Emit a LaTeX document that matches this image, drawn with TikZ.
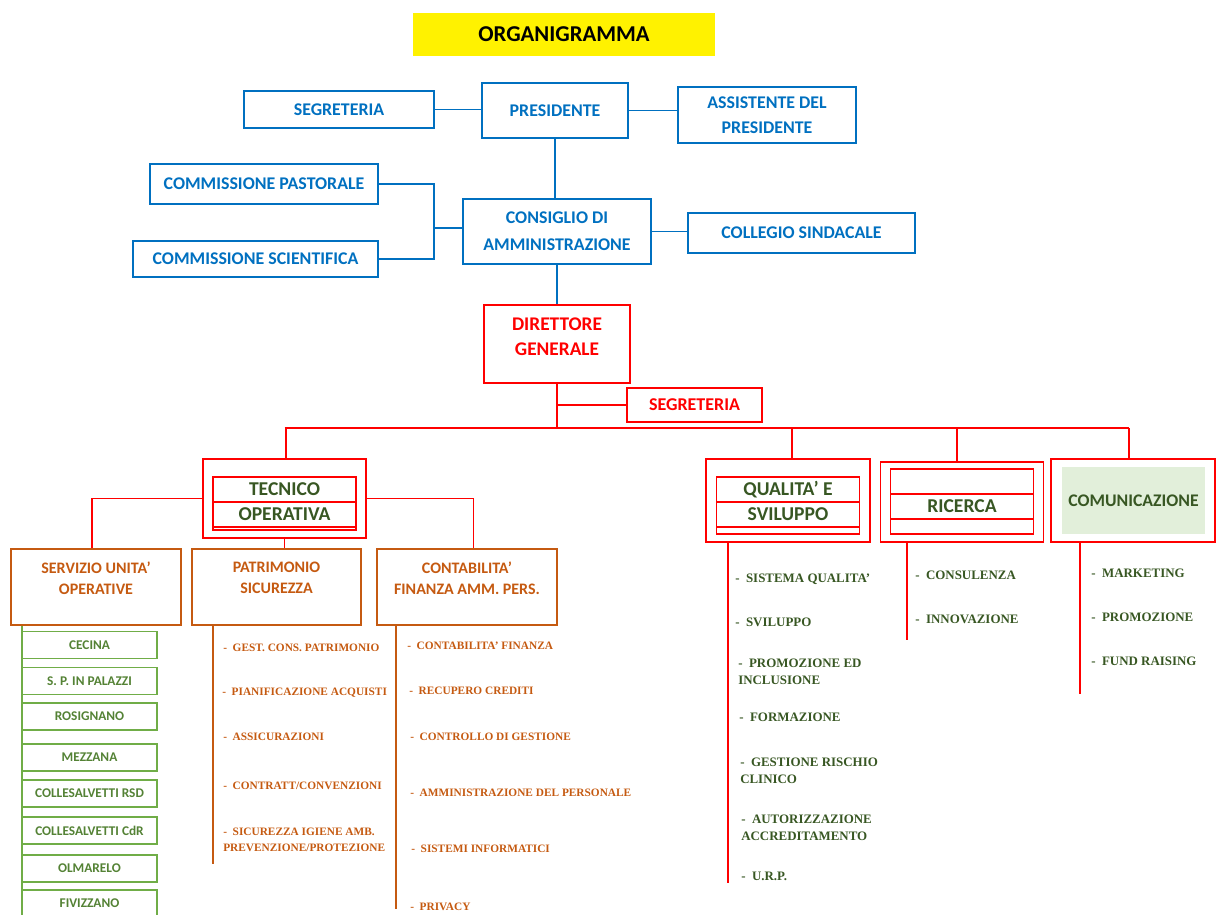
\documentclass[tikz,border=0pt]{standalone}
\usepackage{fontspec}
\setmainfont{Carlito}
\newfontfamily\listfont{Liberation Serif}
\usetikzlibrary{positioning}
\definecolor{cobalt}{RGB}{0, 112, 192}
\definecolor{scarlet}{RGB}{255, 0, 0}
\definecolor{pumpkin}{RGB}{197, 90, 17}
\definecolor{fern}{RGB}{56, 87, 35}
\definecolor{moss}{RGB}{84, 130, 53}
\definecolor{leaf}{RGB}{112, 173, 71}
\definecolor{mint}{RGB}{226, 239, 218}

\begin{document}
\begin{tikzpicture}[x=0.75pt, y=-0.75pt,
    wh/.style 2 args={minimum width=#1*0.75pt, minimum height=#2*0.75pt},
    bluebox/.style={draw=cobalt, line width=1pt, text=cobalt, inner sep=0pt, align=center,
                    font=\bfseries\fontsize{13.4}{18.5}\selectfont},
    blueline/.style={draw=cobalt, line width=1pt},
    redbox/.style={draw=scarlet, line width=1.1pt, inner sep=0pt},
    redrow/.style={draw=scarlet, line width=0.8pt, inner sep=0pt, text=fern,
                   font=\bfseries\fontsize{14.7}{18}\selectfont},
    redline/.style={draw=scarlet, line width=1pt},
    redtext/.style={text=scarlet, inner sep=0pt, align=center,
                    font=\bfseries\fontsize{14.5}{18.75}\selectfont},
    orbox/.style={draw=pumpkin, line width=1pt, inner sep=0pt},
    ortext/.style={text=pumpkin, inner sep=0pt, align=center,
                   font=\bfseries\fontsize{12}{15.75}\selectfont},
    orline/.style={draw=pumpkin, line width=1pt},
    oritem/.style={text=pumpkin, anchor=west, inner sep=0pt, align=left,
                   font=\listfont\bfseries\fontsize{8.5}{12}\selectfont},
    gritem/.style={text=fern, anchor=west, inner sep=0pt, align=left,
                   font=\listfont\bfseries\fontsize{9.7}{12.75}\selectfont},
    uobox/.style={draw=leaf, line width=0.9pt, text=moss, inner sep=0pt, wh={135}{27},
                  font=\bfseries\fontsize{10}{12}\selectfont},
    uoline/.style={draw=leaf, line width=1pt}]
    \useasboundingbox (0,0) rectangle (1219,914);

    % Title
    \node[fill=yellow, wh={302}{43}, font=\bfseries\fontsize{17}{20}\selectfont] (title) at (564,34) {ORGANIGRAMMA};

    % Presidenza e consiglio
    \node[bluebox, wh={190}{37}] (segr)   at (339,109.5) {SEGRETERIA};
    \node[bluebox, wh={146}{55}] (pres)   at (555,110.5) {PRESIDENTE};
    \node[bluebox, wh={178}{56}] (assist) at (767,115)   {ASSISTENTE DEL\\PRESIDENTE};
    \node[bluebox, wh={228}{40}] (pastor) at (264,184)   {COMMISSIONE PASTORALE};
    \node[bluebox, wh={245}{36}] (scient) at (255.5,259) {COMMISSIONE SCIENTIFICA};
    \node[bluebox, wh={188}{65}] (cda)    at (557,231.5) {CONSIGLIO DI\\[1.5pt]AMMINISTRAZIONE};
    \node[bluebox, wh={227}{40}] (coll)   at (801.5,233) {COLLEGIO SINDACALE};

    % Direzione
    \node[redbox, wh={146}{78}] (dg) at (557,344) {};
    \node[redtext, below=10pt of dg.north] (dgT) {DIRETTORE\\GENERALE};
    \node[redbox, wh={135}{34}, text=scarlet, font=\bfseries\fontsize{13.5}{16}\selectfont] (dgsegr) at (694.5,405) {SEGRETERIA};

    % Aree
    \node[redbox, wh={163}{79}] (tec)   at (284.5,498.5) {};
    \node[redrow, wh={143}{25}] (tecA)  at (284.5,489.5) {TECNICO};
    \node[redrow, wh={143}{25}] (tecB)  at (284.5,514.5) {OPERATIVA};
    \node[redrow, wh={143}{3}]  (tecC)  at (284.5,528.5) {};
    \node[redbox, wh={164}{83}] (qual)  at (788,500.5)   {};
    \node[redrow, wh={143}{25}] (qualA) at (788,489.5)   {QUALITA’ E};
    \node[redrow, wh={143}{25}] (qualB) at (788,514.5)   {SVILUPPO};
    \node[redrow, wh={143}{7}]  (qualC) at (788,530.5)   {};
    \node[redbox, wh={163}{80}] (ric)   at (962,502)     {};
    \node[redrow, wh={143}{25}] (ricA)  at (962,481.5)   {};
    \node[redrow, wh={143}{25}] (ricB)  at (962,506.5)   {RICERCA};
    \node[redrow, wh={143}{15}] (ricC)  at (962,526.5)   {};
    \node[redbox, wh={164}{83}] (com)   at (1133,500.5)  {};
    \node[fill=mint, text=fern, inner sep=0pt, wh={143}{67}, font=\bfseries\fontsize{13.3}{16}\selectfont]
         (comA) at (1133.5,500.5) {COMUNICAZIONE};

    % Servizi tecnico operativi
    \node[orbox, wh={170}{76}] (serv) at (96,587)    {};
    \node[ortext, below=10pt of serv.north] (servT) {SERVIZIO UNITA’\\OPERATIVE};
    \node[orbox, wh={169}{76}] (patr) at (276.5,587) {};
    \node[ortext, below=10pt of patr.north] (patrT) {PATRIMONIO\\SICUREZZA};
    \node[orbox, wh={180}{76}] (cont) at (467,587)   {};
    \node[ortext, below=10pt of cont.north] (contT) {CONTABILITA’\\FINANZA AMM. PERS.};

    % Unita' operative
    \foreach \y/\lbl [count=\i] in {645/CECINA, 681/S. P. IN PALAZZI, 716.5/ROSIGNANO, 757.5/MEZZANA,
                                    793.5/COLLESALVETTI RSD, 830.5/COLLESALVETTI CdR, 868.5/OLMARELO, 903.5/FIVIZZANO}
        \node[uobox] (uo\i) at (89.5,\y) {\lbl};

    % Voci
    \node[oritem] (pa1) at (223,648) {-~~GEST. CONS. PATRIMONIO};
    \node[oritem] (pa2) at (222,693) {-~~PIANIFICAZIONE ACQUISTI};
    \node[oritem] (pa3) at (223,737) {-~~ASSICURAZIONI};
    \node[oritem] (pa4) at (223,786) {-~~CONTRATT/CONVENZIONI};
    \node[oritem] (pa5) at (223,840) {-~~SICUREZZA IGIENE AMB.\\PREVENZIONE/PROTEZIONE};

    \node[oritem] (co1) at (407,646) {-~~CONTABILITA’ FINANZA};
    \node[oritem] (co2) at (409,691) {-~~RECUPERO CREDITI};
    \node[oritem] (co3) at (410,737) {-~~CONTROLLO DI GESTIONE};
    \node[oritem] (co4) at (410,793) {-~~AMMINISTRAZIONE DEL PERSONALE};
    \node[oritem] (co5) at (411,849) {-~~SISTEMI INFORMATICI};
    \node[oritem] (co6) at (410,907) {-~~PRIVACY};

    \node[gritem] (qu1) at (735,579)   {-~~SISTEMA QUALITA’};
    \node[gritem] (qu2) at (735,622)   {-~~SVILUPPO};
    \node[gritem] (qu3) at (738,671.5) {-~~PROMOZIONE ED\\INCLUSIONE};
    \node[gritem] (qu4) at (739,717)   {-~~FORMAZIONE};
    \node[gritem] (qu5) at (740,770.5) {-~~GESTIONE RISCHIO\\CLINICO};
    \node[gritem] (qu6) at (741,827.5) {-~~AUTORIZZAZIONE\\ACCREDITAMENTO};
    \node[gritem] (qu7) at (741,876)   {-~~U.R.P.};

    \node[gritem] (ri1) at (915,575) {-~~CONSULENZA};
    \node[gritem] (ri2) at (915,619) {-~~INNOVAZIONE};

    \node[gritem] (cm1) at (1091,573) {-~~MARKETING};
    \node[gritem] (cm2) at (1091,617) {-~~PROMOZIONE};
    \node[gritem] (cm3) at (1091,661) {-~~FUND RAISING};

    % Connectors: presidenza
    \coordinate (commj) at (434,228);
    \draw[blueline] (segr.east) -- (segr.east -| pres.west);
    \draw[blueline] (pres.east) -- (pres.east -| assist.west);
    \draw[blueline] (pres.south) -- (pres.south |- cda.north);
    \draw[blueline] (pastor.east) -| (commj) |- (scient.east);
    \draw[blueline] (commj) -- (commj -| cda.west);
    \draw[blueline] (cda.east) -- (cda.east -| coll.west);
    \draw[blueline] (cda.south) -- (cda.south |- dg.north);

    % Connectors: direzione
    \coordinate (bus) at (558,428);
    \draw[redline] (dg.south) -- (dg.south |- bus);
    \draw[redline] (dg.south |- dgsegr.west) -- (dgsegr.west);
    \draw[redline] (bus -| tec.north) -- ([xshift=-3pt]bus -| com.north);
    \foreach \n/\dx in {tec/1.1, qual/3, ric/-3.7, com/-3}
        \draw[redline] ([xshift=\dx pt]bus -| \n.north) -- ([xshift=\dx pt]\n.north);
    \draw[redline] (tec.west) -| ([xshift=-3pt]serv.north);
    \draw[redline] (tec.east) -| ([xshift=5pt]cont.north);
    \draw[redline] (tec.south) -- (tec.south |- patr.north);

    % Connectors: elenchi
    \coordinate (servEnd) at (22,914);
    \coordinate (patrEnd) at (213,864);
    \coordinate (contEnd) at (396,909);
    \coordinate (qualEnd) at (728,883);
    \coordinate (ricEnd)  at (907,640);
    \coordinate (comEnd)  at (1080,694);
    \draw[uoline]  (serv.south -| servEnd) -- (servEnd);
    \draw[orline]  (patr.south -| patrEnd) -- (patrEnd);
    \draw[orline]  (cont.south -| contEnd) -- (contEnd);
    \draw[redline] (qual.south -| qualEnd) -- (qualEnd);
    \draw[redline] (ric.south  -| ricEnd)  -- (ricEnd);
    \draw[redline] (com.south  -| comEnd)  -- (comEnd);
\end{tikzpicture}
\end{document}
